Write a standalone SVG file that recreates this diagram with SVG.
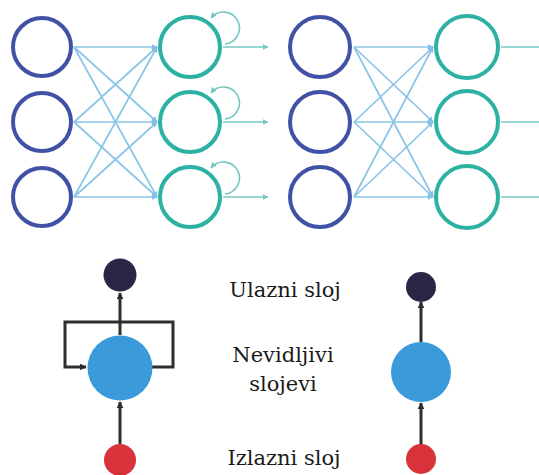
<svg xmlns="http://www.w3.org/2000/svg" width="539" height="475" viewBox="0 0 539 475">
<style>
.in{fill:none;stroke:#4152a6;stroke-width:4}
.hid{fill:none;stroke:#2cb2a2;stroke-width:4}
.c{stroke:#76bbe5;stroke-width:1.7;fill:none;opacity:0.85}
.o{stroke:#74c8c2;stroke-width:1.6;fill:none}
.k{stroke:#2e2e2e;stroke-width:3;fill:none}
.lbl{font-family:"DejaVu Serif","Liberation Serif",serif;font-size:21px;fill:#1a1a1a;text-anchor:middle}
</style>
<defs>
<marker id="ab" viewBox="0 0 10 10" refX="9" refY="5" markerWidth="6" markerHeight="6" markerUnits="userSpaceOnUse" orient="auto"><path d="M0,0 L10,5 L0,10 z" fill="#6fb6e2"/></marker>
<marker id="at" viewBox="0 0 10 10" refX="9" refY="5" markerWidth="6" markerHeight="6" markerUnits="userSpaceOnUse" orient="auto"><path d="M0,0 L10,5 L0,10 z" fill="#74c8c2"/></marker>
<marker id="ak" viewBox="0 0 10 10" refX="9" refY="5" markerWidth="7" markerHeight="7" markerUnits="userSpaceOnUse" orient="auto"><path d="M0,0 L10,5 L0,10 z" fill="#2e2e2e"/></marker>
</defs>
<rect width="539" height="475" fill="#fff"/>
<g id="connectors">
<g marker-end="url(#ab)" class="c">
<line x1="74" y1="47" x2="157" y2="47"/><line x1="74" y1="47" x2="157" y2="122"/><line x1="74" y1="47" x2="157" y2="197"/>
<line x1="74" y1="122" x2="157" y2="47"/><line x1="74" y1="122" x2="157" y2="122"/><line x1="74" y1="122" x2="157" y2="197"/>
<line x1="74" y1="197" x2="157" y2="47"/><line x1="74" y1="197" x2="157" y2="122"/><line x1="74" y1="197" x2="157" y2="197"/>
<line x1="354" y1="47" x2="433" y2="47"/><line x1="354" y1="47" x2="433" y2="122"/><line x1="354" y1="47" x2="433" y2="197"/>
<line x1="354" y1="122" x2="433" y2="47"/><line x1="354" y1="122" x2="433" y2="122"/><line x1="354" y1="122" x2="433" y2="197"/>
<line x1="354" y1="197" x2="433" y2="47"/><line x1="354" y1="197" x2="433" y2="122"/><line x1="354" y1="197" x2="433" y2="197"/>
</g>
<g class="o" marker-end="url(#at)">
<line x1="223" y1="47" x2="268" y2="47"/><line x1="223" y1="122" x2="268" y2="122"/><line x1="223" y1="197" x2="268" y2="197"/>
<path d="M225,44 A16 16 0 1 0 211,18"/>
<path d="M225,119 A16 16 0 1 0 211,93"/>
<path d="M225,194 A16 16 0 1 0 211,168"/>
</g>
<g class="o">
<line x1="501" y1="47" x2="539" y2="47"/><line x1="501" y1="122" x2="539" y2="122"/><line x1="501" y1="197" x2="539" y2="197"/>
</g>
<g class="k">
<line x1="120" y1="335" x2="120" y2="293" marker-end="url(#ak)"/>
<line x1="120" y1="444" x2="120" y2="402" marker-end="url(#ak)"/>
<path d="M152,367 H173 V322 H65 V367 H86" marker-end="url(#ak)"/>
<line x1="421" y1="342" x2="421" y2="302" marker-end="url(#ak)"/>
<line x1="421" y1="446" x2="421" y2="403" marker-end="url(#ak)"/>
</g>
</g>
<g id="in1a"><circle class="in" cx="42" cy="47" r="29"/></g>
<g id="in1b"><circle class="in" cx="42" cy="122" r="29"/></g>
<g id="in1c"><circle class="in" cx="42" cy="197" r="29"/></g>
<g id="hid1a"><circle class="hid" cx="190" cy="47" r="30"/></g>
<g id="hid1b"><circle class="hid" cx="190" cy="122" r="30"/></g>
<g id="hid1c"><circle class="hid" cx="190" cy="197" r="30"/></g>
<g id="in2a"><circle class="in" cx="320" cy="47" r="30"/></g>
<g id="in2b"><circle class="in" cx="320" cy="122" r="30"/></g>
<g id="in2c"><circle class="in" cx="320" cy="197" r="30"/></g>
<g id="hid2a"><circle class="hid" cx="467" cy="47" r="31"/></g>
<g id="hid2b"><circle class="hid" cx="467" cy="122" r="31"/></g>
<g id="hid2c"><circle class="hid" cx="467" cy="197" r="31"/></g>
<g id="rnn-out"><circle cx="120" cy="275" r="16.5" fill="#2b2546"/></g>
<g id="rnn-hidden"><circle cx="120" cy="368" r="32.5" fill="#3b9ad9"/></g>
<g id="rnn-in"><circle cx="120" cy="460" r="16" fill="#d8323a"/></g>
<g id="ff-out"><circle cx="421" cy="287" r="15" fill="#2b2546"/></g>
<g id="ff-hidden"><circle cx="421" cy="372" r="30" fill="#3b9ad9"/></g>
<g id="ff-in"><circle cx="421" cy="459" r="15" fill="#d8323a"/></g>
<g id="labels">
<text class="lbl" x="285" y="297">Ulazni sloj</text>
<text class="lbl" x="283" y="362">Nevidljivi</text>
<text class="lbl" x="283" y="391">slojevi</text>
<text class="lbl" x="284" y="465">Izlazni sloj</text>
</g>
</svg>
